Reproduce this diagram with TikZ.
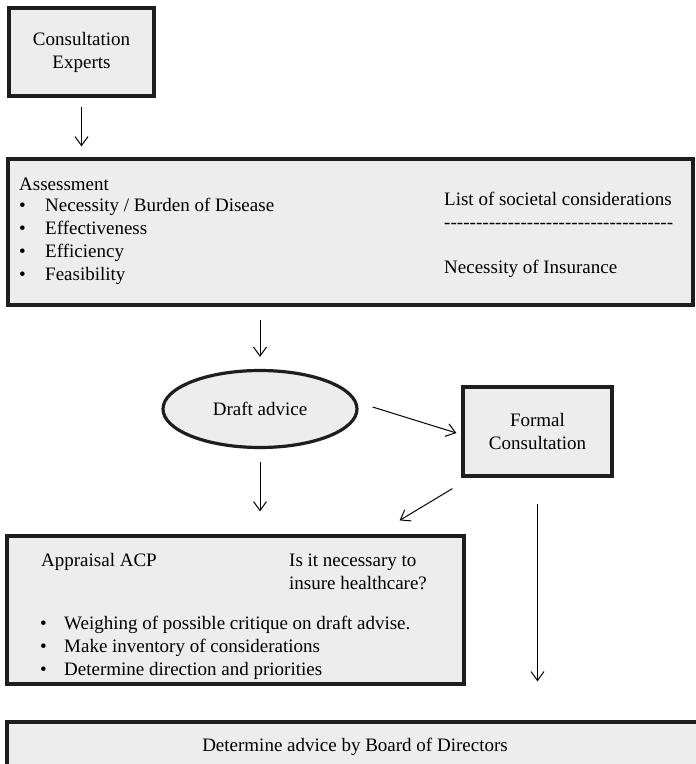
\documentclass[tikz,border=0pt]{standalone}
\usepackage{fontspec}
\setmainfont{Liberation Serif}
\usetikzlibrary{shapes.geometric,arrows.meta}
\definecolor{boxgray}{HTML}{EDEDED}
\definecolor{boxline}{HTML}{1E1E1E}
\newcommand\bul[2]{\makebox[#1][l]{\textbullet}#2}

\begin{document}
\begin{tikzpicture}[x=1pt,y=-1pt,
    font=\fontsize{19}{23}\selectfont,
    box/.style={draw=boxline,fill=boxgray,line width=3.2pt,inner sep=0pt},
    txt/.style={anchor=base west,inner sep=0pt},
    arr/.style={-{Straight Barb[length=9pt,width=13pt]},line width=1pt}]
    \clip (0,0) rectangle (696,764);

    \node[box,minimum width=145pt,minimum height=88pt,align=center] (experts) at (81.5,52) {Consultation\\Experts};

    \node[box,minimum width=685pt,minimum height=146pt] (assess) at (350.5,232) {};
    \node[txt] (assesstitle) at (19,190) {Assessment};
    \foreach \t [count=\i] in {Necessity / Burden of Disease,Effectiveness,Efficiency,Feasibility}
      \node[txt] (crit\i) at (19,188+23*\i) {\bul{26pt}{\t}};
    \node[txt] (societal) at (444,205) {List of societal considerations};
    \node[txt] (dashes) at (444,228) {\makebox[229pt]{\xleaders\hbox{-}\hfill}};
    \node[txt] (insurance) at (444,273) {Necessity of Insurance};

    \node[box,ellipse,minimum width=194pt,minimum height=77pt] (draft) at (260,409) {Draft advice};
    \node[box,minimum width=149pt,minimum height=89pt,align=center] (formal) at (537.5,431.5) {Formal\\Consultation};

    \node[box,minimum width=457pt,minimum height=148pt] (appraisal) at (235.5,610) {};
    \node[txt] (acp) at (41,566) {Appraisal ACP};
    \node[txt] (question1) at (289,566) {Is it necessary to};
    \node[txt] (question2) at (289,589) {insure healthcare?};
    \foreach \t [count=\i] in {Weighing of possible critique on draft advise.,Make inventory of considerations,Determine direction and priorities}
      \node[txt] (step\i) at (40,606+23*\i) {\bul{24pt}{\t}};

    \node[box,minimum width=713pt,minimum height=78pt] (board) at (363.5,761) {};
    \node[anchor=base,inner sep=0pt] (boardtext) at (355,751) {Determine advice by Board of Directors};

    % arrows
    \draw[arr,shorten <=9pt,shorten >=11pt] (experts) -- (experts |- assess.north);
    \draw[arr,shorten <=13pt,shorten >=12pt] (assess.south -| draft) -- (draft);
    \draw[arr] ([shift={(14,-2)}]draft.east) -- ([shift={(-5,1.5)}]formal.west);
    \draw[arr,shorten <=12.5pt,shorten >=23pt] (draft) -- (draft |- appraisal.north);
    \draw[arr] ([shift={(-9,11)}]formal.south west) -- ([shift={(-66,-14)}]appraisal.north east);
    \draw[arr,shorten <=26pt,shorten >=39pt] (formal) -- (formal |- board.north);
  \end{tikzpicture}
\end{document}
